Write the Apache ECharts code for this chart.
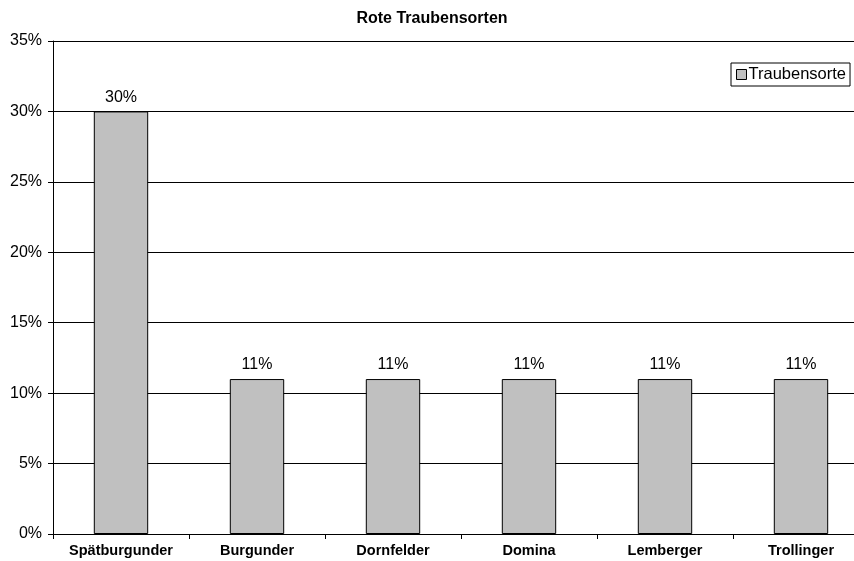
<!DOCTYPE html>
<html>
<head>
<meta charset="utf-8">
<script src="https://cdn.jsdelivr.net/npm/echarts@6/dist/echarts.min.js"></script>
<style>
  html, body { margin: 0; padding: 0; background: #fff; overflow: hidden; }
  #wrap { width: 854px; height: 561px; overflow: hidden; }
  /* the plot continues past the right edge of the visible page */
  #chart { width: 870px; height: 561px; }
</style>
</head>
<body>
<div id="wrap"><div id="chart"></div></div>
<script>
// Share of red grape varieties (percent)
const categories = ['Spätburgunder', 'Burgunder', 'Dornfelder', 'Domina', 'Lemberger', 'Trollinger'];
const shares = [30, 11, 11, 11, 11, 11];
const seriesName = 'Traubensorte';
const yMin = 0, yMax = 35, yStep = 5;

const font = 'Liberation Sans, Arial, sans-serif';
const chart = echarts.init(document.getElementById('chart'), null, { renderer: 'canvas' });

chart.setOption({
  animation: false,
  backgroundColor: '#ffffff',
  title: {
    text: 'Rote Traubensorten',
    left: 427,
    textAlign: 'center',
    top: 6,
    textStyle: { fontFamily: font, fontSize: 16, fontWeight: 'bold', color: '#000' }
  },
  legend: {
    data: [seriesName],
    left: 731,
    top: 63,
    orient: 'vertical',
    itemWidth: 10,
    itemHeight: 10,
    itemGap: 0,
    padding: [3, 4, 3, 5],
    borderColor: '#000',
    borderWidth: 1,
    backgroundColor: '#fff',
    icon: 'rect',
    itemStyle: { color: '#c0c0c0', borderColor: '#000', borderWidth: 1 },
    textStyle: { fontFamily: font, fontSize: 16.5, color: '#000', padding: [0, 0, 0, -3] }
  },
  grid: { left: 53, top: 41, bottom: 27, right: 1, containLabel: false },
  xAxis: {
    type: 'category',
    data: categories,
    axisLine: { lineStyle: { color: '#000', width: 1 } },
    axisTick: { show: true, alignWithLabel: false, length: 5, lineStyle: { color: '#000' } },
    axisLabel: { fontFamily: font, fontSize: 14.5, fontWeight: 'bold', color: '#000', margin: 9, interval: 0 },
    splitLine: { show: false }
  },
  yAxis: {
    type: 'value',
    min: yMin,
    max: yMax,
    interval: yStep,
    axisLine: { show: true, lineStyle: { color: '#000', width: 1 } },
    axisTick: { show: true, length: 5, lineStyle: { color: '#000' } },
    axisLabel: { fontFamily: font, fontSize: 16, color: '#000', margin: 11, formatter: '{value}%' },
    splitLine: { show: true, lineStyle: { color: '#000', width: 1 } }
  },
  series: [{
    name: seriesName,
    type: 'bar',
    data: shares,
    barWidth: '40%',
    itemStyle: { color: '#c0c0c0', borderColor: '#000', borderWidth: 1 },
    label: {
      show: true,
      position: 'top',
      distance: 6,
      formatter: '{c}%',
      fontFamily: font,
      fontSize: 16,
      color: '#000'
    }
  }]
});
</script>
</body>
</html>
